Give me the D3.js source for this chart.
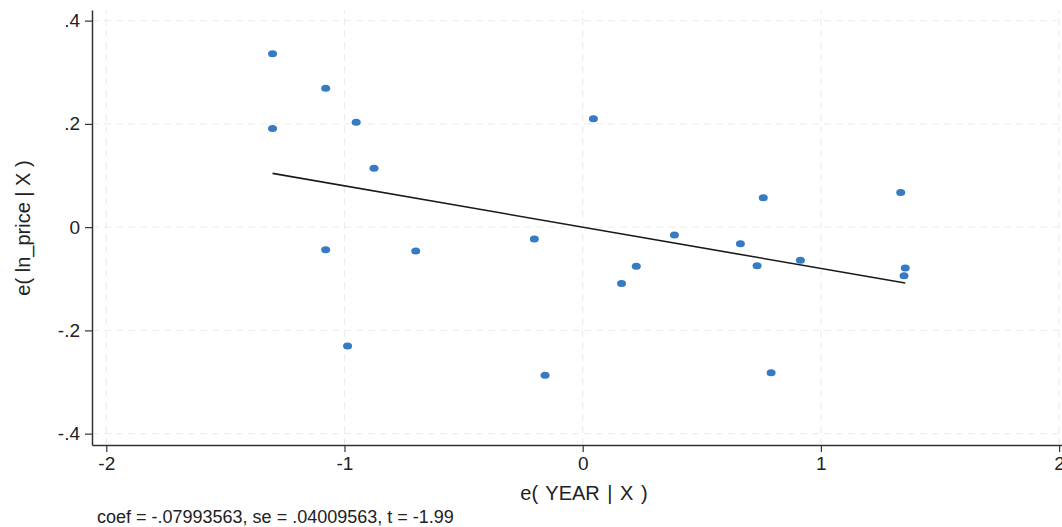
<!DOCTYPE html>
<html>
<head>
<meta charset="utf-8">
<script src="https://cdn.jsdelivr.net/npm/d3@7"></script>
<style>
  html, body { margin: 0; padding: 0; background: #fff; }
  svg { display: block; }
  text { font-family: "Liberation Sans", Arial, sans-serif; fill: #222; }
</style>
</head>
<body>
<svg id="chart" width="1062" height="527"></svg>
<script>
// Residuals of YEAR (x) and ln_price (y)
const xResid = [-1.302, -1.302, -1.079, -0.951, -0.876, 0.045, -1.079, -0.701, -0.203, 0.225, 0.163,
                -0.987, -0.158, 0.385, 0.662, 0.732, 0.914, 0.758, 1.335, 1.354, 1.349, 0.791];
const yResid = [0.336, 0.191, 0.269, 0.203, 0.114, 0.210, -0.044, -0.046, -0.023, -0.076, -0.109,
                -0.230, -0.287, -0.015, -0.032, -0.075, -0.064, 0.057, 0.067, -0.079, -0.094, -0.282];
const coef = -0.07993563;
const xTicks = [-2, -1, 0, 1, 2];
const xTickLabels = ["-2", "-1", "0", "1", "2"];
const yTicks = [0.4, 0.2, 0, -0.2, -0.4];
const yTickLabels = [".4", ".2", "0", "-.2", "-.4"];
const xTitle = "e( YEAR | X )";
const yTitle = "e( ln_price | X )";
const note = "coef = -.07993563, se = .04009563, t = -1.99";

const svg = d3.select("#chart");
const x = d3.scaleLinear().domain([-2.06, 2.06]).range([92, 1073.4]);
const y = d3.scaleLinear().domain([-0.422, 0.4206]).range([445, 10]);

// gridlines
const grid = svg.append("g").attr("stroke", "#ebebeb").attr("stroke-width", 1).attr("stroke-dasharray", "7,5");
grid.selectAll("line.h").data(yTicks).join("line").attr("class", "h")
  .attr("x1", x.range()[0]).attr("x2", x.range()[1])
  .attr("y1", d => y(d)).attr("y2", d => y(d));
grid.selectAll("line.v").data(xTicks).join("line").attr("class", "v")
  .attr("x1", d => x(d)).attr("x2", d => x(d))
  .attr("y1", y.range()[0]).attr("y2", y.range()[1]);

// fitted line
const ext = d3.extent(xResid);
svg.append("path")
  .datum(ext.map(v => [v, coef * v]))
  .attr("d", d3.line().x(d => x(d[0])).y(d => y(d[1])))
  .attr("stroke", "#1a1a1a").attr("stroke-width", 1.6).attr("fill", "none");

// points
svg.append("g").selectAll("ellipse").data(xResid.map((v, i) => [v, yResid[i]])).join("ellipse")
  .attr("cx", d => x(d[0])).attr("cy", d => y(d[1]))
  .attr("rx", 4.5).attr("ry", 3.5)
  .attr("fill", "#3679c4");

// axes
const yAxis = svg.append("g").attr("transform", `translate(${x.range()[0]},0)`)
  .call(d3.axisLeft(y).tickValues(yTicks).tickFormat((d, i) => yTickLabels[i]).tickSize(7).tickPadding(5).tickSizeOuter(0));
const xAxis = svg.append("g").attr("transform", `translate(0,${y.range()[0]})`)
  .call(d3.axisBottom(x).tickValues(xTicks).tickFormat((d, i) => xTickLabels[i]).tickSize(7).tickPadding(5).tickSizeOuter(0));
[yAxis, xAxis].forEach(a => {
  a.select(".domain").attr("stroke", "#333").attr("stroke-width", 1.5);
  a.selectAll(".tick line").attr("stroke", "#333").attr("stroke-width", 1.2);
  a.selectAll(".tick text").attr("font-size", 19).attr("fill", "#222")
    .attr("font-family", '"Liberation Sans", Arial, sans-serif');
});

// titles
svg.append("text").attr("x", 584).attr("y", 500).attr("text-anchor", "middle")
  .attr("font-size", 20).attr("word-spacing", 2).text(xTitle);
svg.append("text").attr("transform", "translate(30,228) rotate(-90)").attr("text-anchor", "middle")
  .attr("font-size", 20).text(yTitle);
svg.append("text").attr("x", 97).attr("y", 523).attr("font-size", 18).text(note);
</script>
</body>
</html>
